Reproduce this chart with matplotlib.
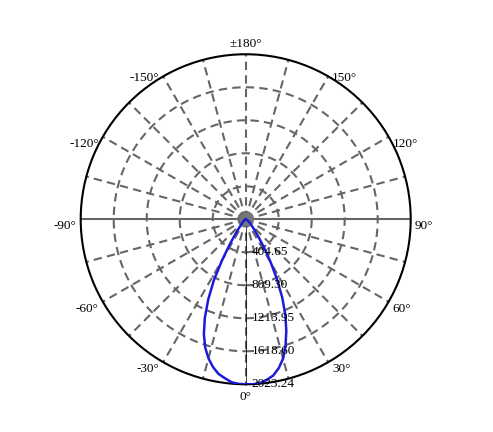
import matplotlib

matplotlib.use("Agg")
import matplotlib.pyplot as plt
import numpy as np

plt.rcParams["font.family"] = ["Liberation Serif", "DejaVu Serif"]

# Intensity distribution (cd)
ANGLES_POS = [0, 2.5, 5, 7.5, 10, 12.5, 15, 17.5, 20, 22.5, 25, 27.5, 30, 32.5, 35,
              37.5, 40, 45, 50, 60, 75, 90, 180]
INTENSITY_POS = [2023, 2025, 2015, 1985, 1945, 1870, 1770, 1625, 1455, 1270, 1060, 830,
                 620, 440, 300, 210, 150, 95, 60, 25, 8, 0, 0]
ANGLES_NEG = [0, -2.5, -5, -7.5, -10, -12.5, -15, -17.5, -20, -22.5, -25, -27.5, -30,
              -32.5, -35, -37.5, -40, -45, -50, -60, -75, -90, -180]
INTENSITY_NEG = [2023, 2020, 2005, 1965, 1925, 1855, 1765, 1650, 1500, 1310, 1090, 850,
                 580, 360, 220, 140, 90, 55, 35, 15, 5, 0, 0]

R_MAX = 2023.24
RING_VALUES = [404.65, 809.30, 1213.95, 1618.60, 2023.24]
ANGLE_TICKS = [-150, -120, -90, -60, -30, 0, 30, 60, 90, 120, 150, 180]

GRID = "#666666"

fig = plt.figure(figsize=(4.93, 4.32), dpi=100)
ax = fig.add_axes([0.1637, 0.1105, 0.6694, 0.7639], projection="polar")
ax.set_theta_zero_location("S")
ax.set_theta_direction(1)
ax.set_ylim(0, R_MAX)
ax.grid(False)
ax.set_xticks([])
ax.set_yticks([])
ax.spines["polar"].set_color("black")
ax.spines["polar"].set_linewidth(1.5)

# radial spokes every 15 degrees
for deg in range(0, 360, 15):
    th = np.deg2rad(deg)
    if deg in (90, 270):
        ax.plot([th, th], [0, R_MAX], color=GRID, lw=1.5, zorder=1)
    else:
        ax.plot([th, th], [0, R_MAX], color=GRID, lw=1.5, ls=(0, (4, 2.5)), zorder=1)
ax.plot([0, 0], [0, R_MAX], color="black", lw=0.5, zorder=1.5)

# rings
circ = np.linspace(0, 2 * np.pi, 361)
for rv in RING_VALUES[:-1]:
    ax.plot(circ, np.full_like(circ, rv), color=GRID, lw=1.5, ls=(0, (4, 2.5)), zorder=1)

# centre hub
ax.scatter([0], [0], s=80, color="#777777", zorder=2)

# curve
theta = np.deg2rad(np.concatenate([ANGLES_NEG[::-1], ANGLES_POS[1:]]))
inten = np.concatenate([INTENSITY_NEG[::-1], INTENSITY_POS[1:]])
ax.plot(theta, inten, color="#1c1cdc", lw=1.8, zorder=3, solid_joinstyle="round")

# radial value labels along the 0 degree spoke
for rv in RING_VALUES:
    ax.annotate(f"{rv:.2f}", xy=(0, rv), xytext=(6, 0), textcoords="offset pixels",
                ha="left", va="center", fontsize=9.5, color="black", zorder=4,
                annotation_clip=False)

# angle labels
for deg in ANGLE_TICKS:
    th = np.deg2rad(deg)
    if deg == 180:
        label, ha, off = "\u00b1180\u00b0", "center", (0, 10)
    elif deg == 0:
        label, ha, off = "0\u00b0", "center", (0, -13)
    else:
        label = f"{deg}\u00b0"
        ha = "left" if deg > 0 else "right"
        dx = 4 if deg > 0 else -4
        dy = -2 if abs(deg) == 150 else -7
        off = (dx, dy)
    ax.annotate(label, xy=(th, R_MAX), xytext=off, textcoords="offset pixels",
                ha=ha, va="center", fontsize=9.5, color="black", annotation_clip=False)

fig.savefig("out.png", dpi=100)
